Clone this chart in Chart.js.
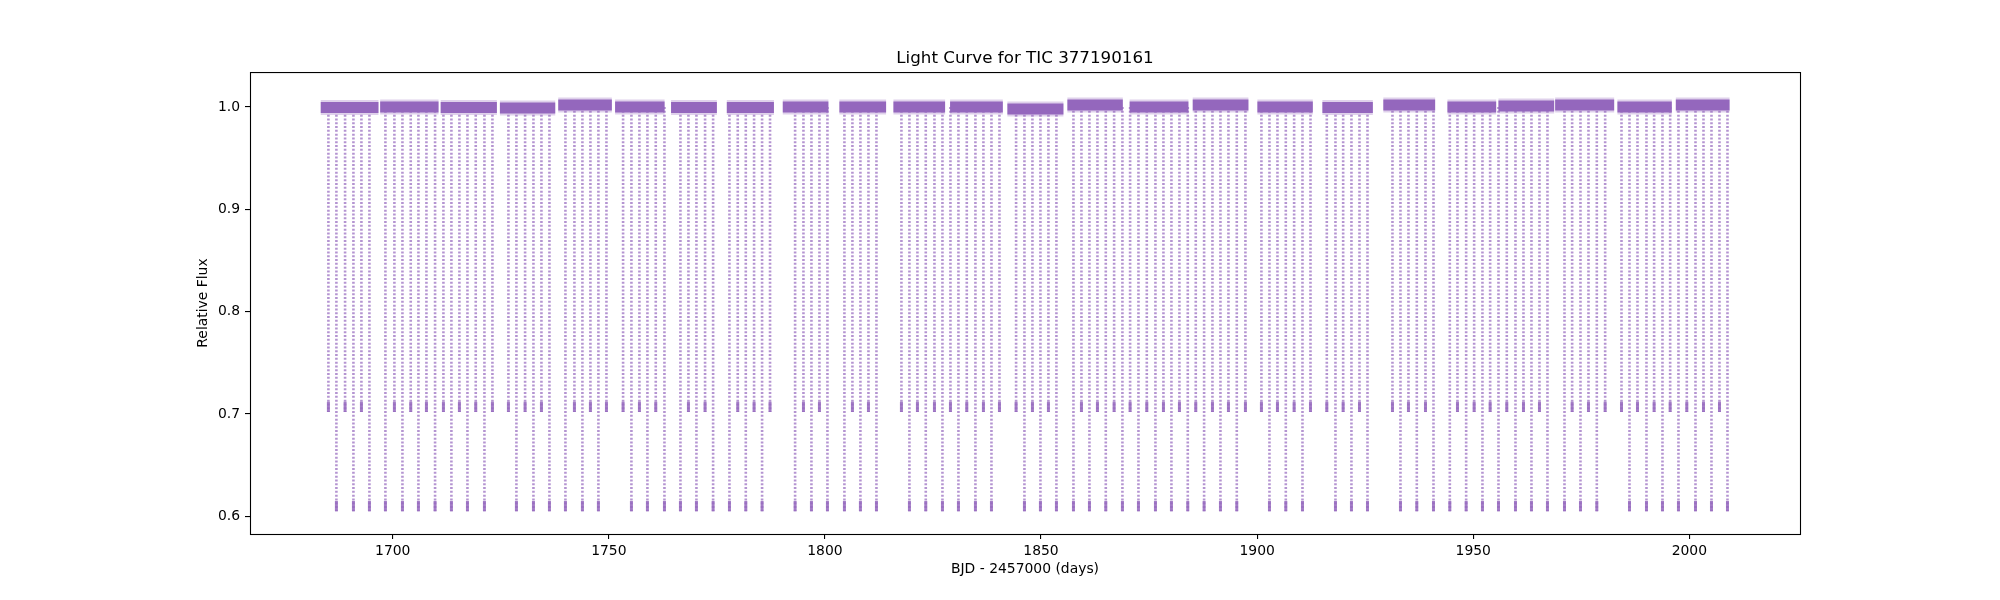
<!DOCTYPE html>
<html>
<head>
<meta charset="utf-8">
<title>Light Curve for TIC 377190161</title>
<script src="https://cdn.jsdelivr.net/npm/chart.js@4.4.1/dist/chart.umd.min.js"></script>
<style>
  html, body { margin: 0; padding: 0; background: #ffffff; }
  canvas { display: block; }
</style>
</head>
<body>
<canvas id="lightCurve" width="2000" height="600"></canvas>
<script>
// Axis ticks
const xTicks = [1700, 1750, 1800, 1850, 1900, 1950, 2000];
const yTicks = [0.6, 0.7, 0.8, 0.9, 1.0];

// Continuous stretches of data (BJD - 2457000) and the out-of-eclipse flux level of each
const segStart = [1683.35, 1697.1, 1711.1, 1724.8, 1738.3, 1751.45, 1764.4, 1777.3, 1790.25, 1803.35, 1815.85, 1828.96,
                  1842.22, 1856.1, 1870.5, 1885.1, 1900.06, 1915.1, 1929.2, 1944.03, 1955.83, 1968.95, 1983.36, 1996.87];
const segEnd   = [1696.7, 1710.6, 1724.1, 1737.6, 1750.7, 1762.9, 1775.0, 1788.2, 1800.8, 1814.15, 1827.8, 1841.16,
                  1855.18, 1868.92, 1884.1, 1897.98, 1912.88, 1926.77, 1941.18, 1955.3, 1968.72, 1982.6, 1995.94, 2009.3];
const segLevel = [0.9995, 1.0, 0.9995, 0.999, 1.002, 1.0, 0.9995, 0.9995, 1.0, 1.0, 1.0, 1.0,
                  0.998, 1.002, 1.0, 1.002, 1.0, 0.9995, 1.002, 1.0, 1.001, 1.002, 1.0, 1.002];

// Primary eclipses (minimum near 0.61)
const primaryTimes = [
  1686.97, 1690.91, 1694.61, 1698.31, 1702.25, 1705.95, 1709.80, 1713.58, 1717.29, 1721.22,
  1728.62, 1732.56, 1736.26, 1739.96, 1743.89, 1747.59, 1755.23, 1758.93, 1762.87, 1766.57,
  1770.27, 1774.13, 1777.91, 1781.69, 1785.46, 1793.10, 1796.88, 1800.58, 1804.51, 1808.21,
  1811.92, 1819.55, 1823.33, 1827.19, 1830.89, 1834.82, 1838.53, 1846.16, 1849.86, 1853.56,
  1857.50, 1861.20, 1864.98, 1868.83, 1872.54, 1876.47, 1880.17, 1883.95, 1887.73, 1891.51,
  1895.29, 1902.85, 1906.63, 1910.49, 1918.12, 1921.82, 1925.53, 1933.16, 1936.94, 1940.80,
  1944.58, 1948.36, 1952.13, 1955.84, 1959.77, 1963.47, 1967.17, 1971.11, 1974.81, 1978.59,
  1986.15, 1990.08, 1993.78, 1997.48, 2001.42, 2005.12, 2008.82
];
const primaryMin = 0.605;

// Secondary eclipses (minimum near 0.70)
const secondaryTimes = [
  1685.12, 1688.98, 1692.76, 1700.39, 1704.17, 1707.80, 1711.73, 1715.43, 1719.21, 1723.07,
  1726.77, 1730.63, 1734.41, 1742.04, 1745.74, 1749.45, 1753.30, 1757.08, 1760.86, 1768.42,
  1772.27, 1779.83, 1783.61, 1787.30, 1795.03, 1798.73, 1806.36, 1810.07, 1817.70, 1821.40,
  1825.34, 1829.04, 1832.82, 1836.67, 1840.38, 1844.23, 1848.01, 1851.71, 1859.35, 1863.05,
  1866.91, 1870.61, 1874.47, 1878.32, 1882.02, 1885.80, 1889.66, 1893.36, 1897.29, 1900.99,
  1904.70, 1908.56, 1912.34, 1916.12, 1919.90, 1923.68, 1931.31, 1935.01, 1938.95, 1946.35,
  1950.21, 1953.91, 1957.76, 1961.62, 1965.32, 1972.88, 1976.66, 1980.52, 1984.30, 1988.00,
  1991.85, 1995.56, 1999.41, 2003.27, 2006.97
];
const secondaryMin = 0.702;

const PURPLE = '148, 103, 189';

// helpers: turn the arrays into broken line paths (null breaks the line)
function bandPoints() {
    const pts = [];
    segStart.forEach((s, i) => {
        pts.push({x: s, y: segLevel[i]}, {x: segEnd[i], y: segLevel[i]}, {x: segEnd[i], y: null});
    });
    return pts;
}

function columnPoints(times, top, bottom) {
    const pts = [];
    times.forEach(t => {
        pts.push({x: t, y: top}, {x: t, y: bottom}, {x: t, y: null});
    });
    return pts;
}

// white background + full axes frame like matplotlib
const framePlugin = {
    id: 'frame',
    beforeDraw(chart) {
        const ctx = chart.ctx;
        ctx.save();
        ctx.fillStyle = '#ffffff';
        ctx.fillRect(0, 0, chart.width, chart.height);
        ctx.restore();
    },
    afterDraw(chart) {
        const {ctx, chartArea} = chart;
        ctx.save();
        ctx.strokeStyle = '#000000';
        ctx.lineWidth = 1.1;
        ctx.strokeRect(chartArea.left + 0.5, chartArea.top + 0.5,
            chartArea.right - chartArea.left, chartArea.bottom - chartArea.top);
        ctx.restore();
    }
};

Chart.defaults.font.family = "'DejaVu Sans', sans-serif";
Chart.defaults.color = '#000000';

const lineDefaults = {
    pointRadius: 0,
    pointHoverRadius: 0,
    tension: 0,
    spanGaps: false,
    fill: false
};

new Chart(document.getElementById('lightCurve'), {
    type: 'line',
    data: {
        datasets: [
            {
                ...lineDefaults,
                label: 'out of eclipse',
                data: bandPoints(),
                borderColor: `rgba(${PURPLE}, 1)`,
                borderWidth: 11,
                borderCapStyle: 'butt',
                order: 0
            },
            {
                ...lineDefaults,
                label: 'out of eclipse scatter',
                data: bandPoints(),
                borderColor: `rgba(${PURPLE}, 0.3)`,
                borderWidth: 15,
                borderCapStyle: 'butt',
                order: 1
            },
            {
                ...lineDefaults,
                label: 'primary bottom',
                data: columnPoints(primaryTimes, primaryMin, primaryMin + 0.01),
                borderColor: `rgba(${PURPLE}, 0.85)`,
                borderWidth: 3,
                order: 2
            },
            {
                ...lineDefaults,
                label: 'secondary bottom',
                data: columnPoints(secondaryTimes, secondaryMin, secondaryMin + 0.01),
                borderColor: `rgba(${PURPLE}, 0.85)`,
                borderWidth: 3,
                order: 2
            },
            {
                ...lineDefaults,
                label: 'primary eclipses',
                data: columnPoints(primaryTimes, 1.0, primaryMin),
                borderColor: `rgba(${PURPLE}, 0.7)`,
                borderWidth: 2.6,
                borderDash: [2, 1.8],
                order: 3
            },
            {
                ...lineDefaults,
                label: 'secondary eclipses',
                data: columnPoints(secondaryTimes, 1.0, secondaryMin),
                borderColor: `rgba(${PURPLE}, 0.7)`,
                borderWidth: 2.6,
                borderDash: [2, 1.8],
                order: 3
            }
        ]
    },
    options: {
        responsive: false,
        devicePixelRatio: 1,
        animation: false,
        events: [],
        layout: {
            padding: {left: 0, right: 200, top: 0, bottom: 0}
        },
        plugins: {
            legend: {display: false},
            tooltip: {enabled: false},
            title: {
                display: true,
                text: 'Light Curve for TIC 377190161',
                fullSize: false,
                color: '#000000',
                font: {size: 16.7, weight: 'normal'},
                padding: {top: 48.7, bottom: 3.3}
            }
        },
        scales: {
            x: {
                type: 'linear',
                min: 1666.98,
                max: 2025.6,
                afterFit: (s) => { s.height = 66; },
                afterBuildTicks: (s) => { s.ticks = xTicks.map(v => ({value: v})); },
                border: {display: false},
                grid: {
                    drawOnChartArea: false,
                    drawTicks: true,
                    tickLength: 5,
                    color: '#000000',
                    lineWidth: 1.1
                },
                ticks: {
                    autoSkip: false,
                    maxRotation: 0,
                    padding: 4,
                    color: '#000000',
                    font: {size: 13.9},
                    callback: (v) => String(v)
                },
                title: {
                    display: true,
                    text: 'BJD - 2457000 (days)',
                    color: '#000000',
                    font: {size: 13.9},
                    padding: {top: 0, bottom: 22.5}
                }
            },
            y: {
                type: 'linear',
                min: 0.5827,
                max: 1.0342,
                afterFit: (s) => { s.width = 250; },
                afterBuildTicks: (s) => { s.ticks = yTicks.map(v => ({value: v})); },
                border: {display: false},
                grid: {
                    drawOnChartArea: false,
                    drawTicks: true,
                    tickLength: 5,
                    color: '#000000',
                    lineWidth: 1.1
                },
                ticks: {
                    autoSkip: false,
                    padding: 5,
                    color: '#000000',
                    font: {size: 13.9},
                    callback: (v) => v.toFixed(1)
                },
                title: {
                    display: true,
                    text: 'Relative Flux',
                    color: '#000000',
                    font: {size: 13.9},
                    padding: {top: 195.5, bottom: 0}
                }
            }
        }
    },
    plugins: [framePlugin]
});
</script>
</body>
</html>
